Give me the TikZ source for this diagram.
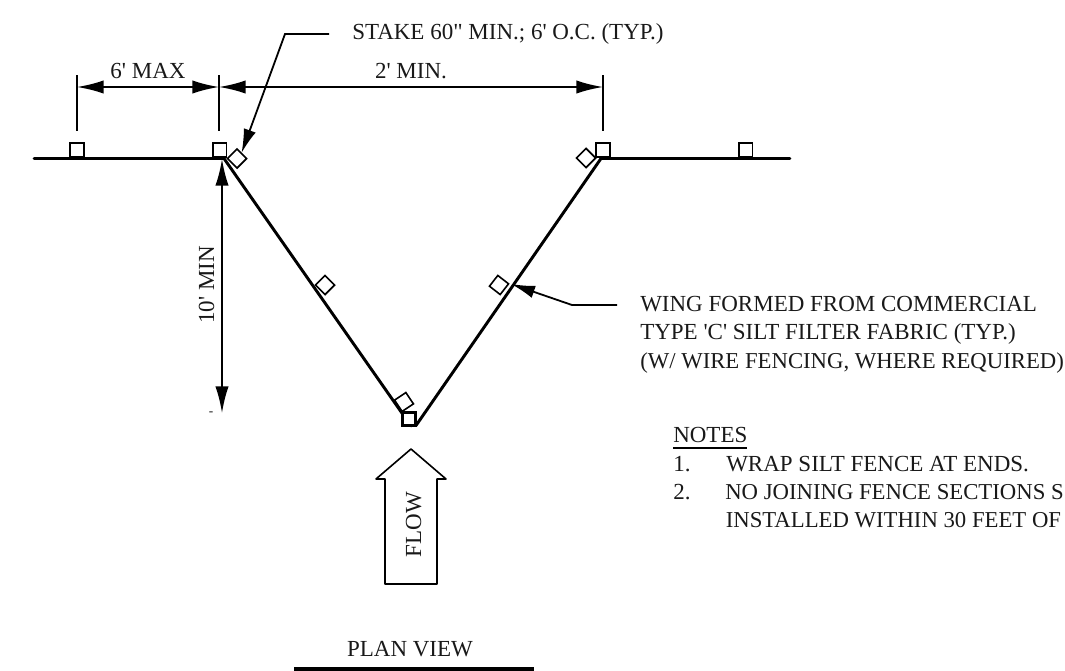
\documentclass[tikz,border=0pt]{standalone}
\usepackage{fontspec}
\newfontfamily\dwgfont{Liberation Serif}
\usetikzlibrary{arrows.meta}
\tikzset{
  x=0.75pt,y=-0.75pt,
  lbl/.style={inner sep=0pt,font=\dwgfont\fontsize{17.25}{20}\selectfont,text=black!90,anchor=base},
  lblw/.style={lbl,anchor=base west},
  lblfit/.style={lblw,font=\dwgfont\fontsize{17.05}{20}\selectfont},
  thick line/.style={line width=3pt,line cap=butt},
  fence/.style={line width=2.2pt,line cap=round},
  dim/.style={line width=1.4pt},
  tick/.style={line width=1.3pt},
  sq/.style={draw,fill=white,line width=1.2pt,minimum size=10.2pt,inner sep=0pt,outer sep=0pt,shape=rectangle},
  dia/.style={sq,rotate=#1},
  both/.style={{Latex[length=20pt,width=10pt]}-{Latex[length=20pt,width=10pt]}},
  leader/.style={line width=1.35pt,-{Latex[length=18pt,width=9.5pt]}}
}
\begin{document}
\begin{tikzpicture}
\useasboundingbox (0,0) rectangle (1065,671);
% fence
\coordinate (le) at (34,158.5);
\coordinate (lc) at (224,158.5);
\coordinate (rc) at (601,158.5);
\coordinate (re) at (790,158.5);
\coordinate (b) at (416,425.5);
\coordinate (bl) at (411,426);
\draw[fence] (le) -- (lc) -- (bl);
\draw[fence] (b) -- (rc) -- (re);
% stakes
\node[sq] (s1) at (77,150) {};
\node[sq] (s2) at (219.5,150) {};
\node[sq] (s3) at (603,150) {};
\node[sq] (s4) at (745.5,150) {};
\node[sq,line width=2.1pt,minimum size=10pt] (s5) at (409,419) {};
\node[dia=45] (d1) at (237,158.5) {};
\node[dia=45] (d2) at (325,285) {};
\node[dia=34] (d3) at (404,402) {};
\node[dia=45] (d4) at (586,158) {};
\node[dia=52] (d5) at (499,285) {};
% dimension ticks
\coordinate (t1a) at (77,75); \coordinate (t1b) at (77,131);
\coordinate (t2a) at (219,75); \coordinate (t2b) at (219,131);
\coordinate (t3a) at (603,75); \coordinate (t3b) at (603,131);
\draw[tick] (t1a) -- (t1b);
\draw[tick] (t2a) -- (t2b);
\draw[tick] (t3a) -- (t3b);
\coordinate (m1) at (77,87); \coordinate (m2) at (219,87); \coordinate (m3) at (603,87);
\draw[dim,both] (m1) -- (m2);
\draw[dim,both] (m2) -- (m3);
\coordinate (v1) at (222,159); \coordinate (v2) at (222,413);
\draw[dim,both] (v1) -- (v2);
% leaders
\coordinate (la) at (329,34); \coordinate (lb) at (285,34); \coordinate (lt) at (241.5,153);
\draw[leader] (la) -- (lb) -- (lt);
\coordinate (ra) at (617,305); \coordinate (rb) at (572,305); \coordinate (rt) at (511,284);
\draw[leader] (ra) -- (rb) -- (rt);
% flow arrow
\node[lbl,rotate=90] (flow) at (421,524.5) {FLOW};
\draw[line width=1.2pt,line join=round] (385,584) -- (385,479) -- (376,479) -- (411,449) -- (446,479) -- (437,479) -- (437,584) -- cycle;
% texts
\node[lblw] (t1) at (352,39.5) {STAKE 60" MIN.; 6' O.C. (TYP.)};
\node[lbl] (t2) at (148,78.5) {6' MAX};
\node[lbl] (t3) at (411,78) {2' MIN.};
\node[lbl,rotate=90] (t4) at (214,285) {10' MIN};
\node[lbl,font=\dwgfont\fontsize{10}{12}\selectfont] (t5) at (211,415) {-};
\node[lblw] (w1) at (640,311) {WING FORMED FROM COMMERCIAL};
\node[lblw] (w2) at (640,339) {TYPE 'C' SILT FILTER FABRIC (TYP.)};
\node[lblfit] (w3) at (640,368) {(W/ WIRE FENCING, WHERE REQUIRED)};
\node[lblw] (n0) at (673,442) {NOTES};
\draw[line width=1.5pt] (673,448) -- (747,448);
\node[lblw] (n1) at (673,471) {1.};
\node[lblw] (n1t) at (726,471) {WRAP SILT FENCE AT ENDS.};
\node[lblw] (n2) at (673,499) {2.};
\node[lblfit] (n2t) at (725,499) {NO JOINING FENCE SECTIONS S};
\node[lblfit] (n3t) at (725.5,527) {INSTALLED WITHIN 30 FEET OF};
\node[lbl] (pv) at (410,656.5) {PLAN VIEW};
\draw[thick line] (294,669) -- (534,669);
\end{tikzpicture}
\end{document}
